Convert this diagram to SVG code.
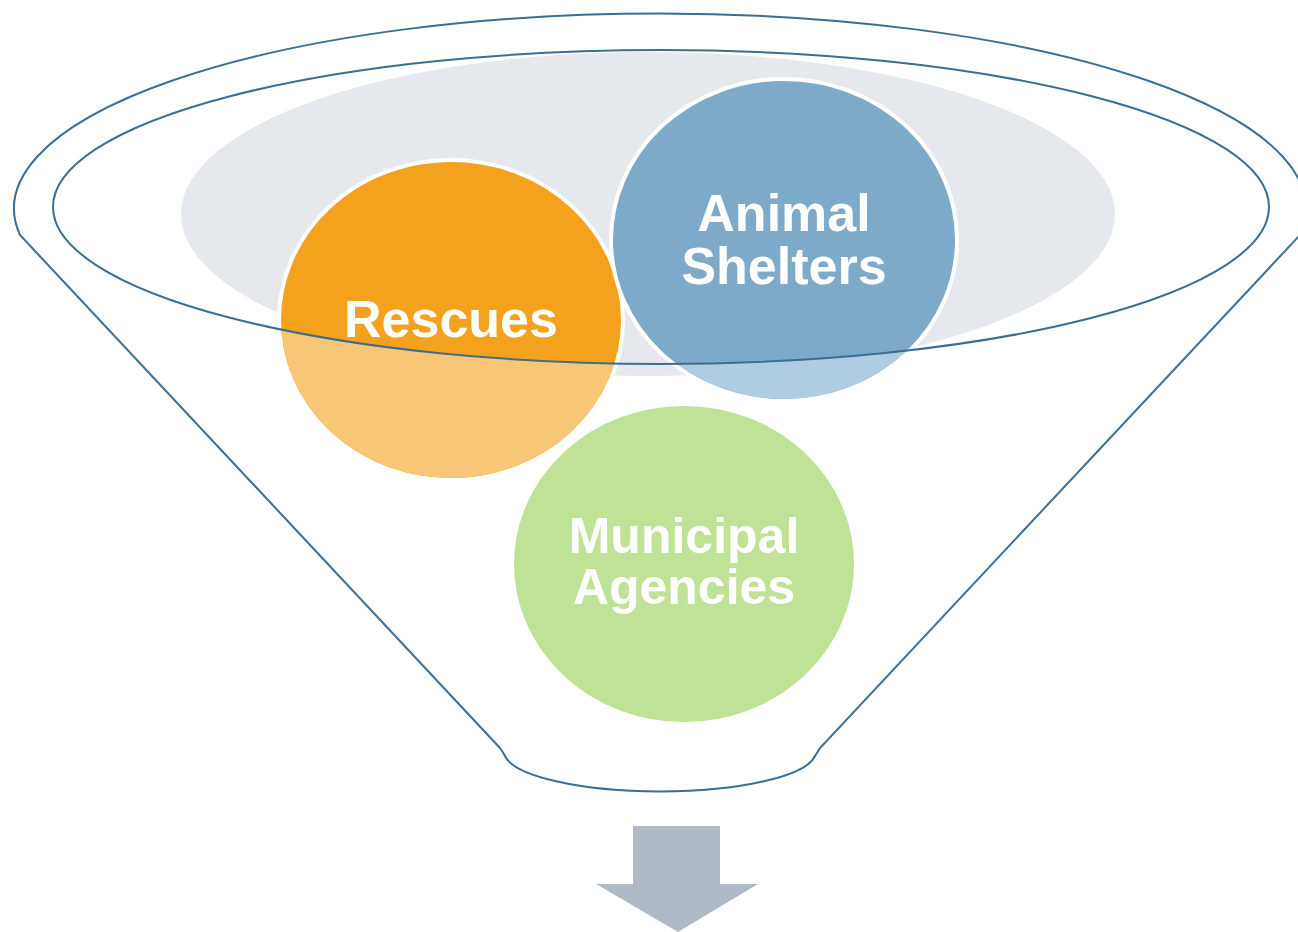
<svg xmlns="http://www.w3.org/2000/svg" width="1298" height="932" viewBox="0 0 1298 932">
<style>
.lbl{font-family:"Liberation Sans",Arial,sans-serif;font-weight:bold;font-size:52px;fill:#fff;text-anchor:middle}
.sm{font-size:50px}
.edge{fill:none;stroke:#3B6E8F;stroke-width:2}
.circ{stroke:#fff;stroke-width:4}
</style>
<defs>
<clipPath id="outside">
<path clip-rule="evenodd" d="M0,0 H1298 V932 H0 Z M53,207 A608 157 0 1 0 1269,207 A608 157 0 1 0 53,207 Z"/>
</clipPath>
</defs>
<rect width="1298" height="932" fill="#fff"/>
<g id="funnel-back">
<ellipse cx="648" cy="214" rx="467" ry="162" fill="#E5E9ED"/>
</g>
<g id="rescues">
<ellipse class="circ" cx="451" cy="320" rx="172" ry="160" fill="#F4A11D"/>
<ellipse cx="451" cy="320" rx="170" ry="158" fill="#F8C677" clip-path="url(#outside)"/>
<text class="lbl" x="451" y="337">Rescues</text>
</g>
<g id="animal-shelters">
<ellipse class="circ" cx="784" cy="240" rx="173" ry="161" fill="#7EAACA"/>
<ellipse cx="784" cy="240" rx="171" ry="159" fill="#B0CCE1" clip-path="url(#outside)"/>
<text class="lbl" x="784" y="231">Animal</text>
<text class="lbl" x="784" y="284">Shelters</text>
</g>
<g id="municipal-agencies">
<ellipse class="circ" cx="684" cy="564" rx="172" ry="160" fill="#BFE297"/>
<text class="lbl sm" x="684" y="553">Municipal</text>
<text class="lbl sm" x="684" y="604">Agencies</text>
</g>
<g id="funnel">
<path class="edge" d="M20,235 A646 195 0 1 1 1300,235 L820,748 Q817,753 815,756 A156 40 0 0 1 505,756 Q503,752 500,748 Z"/>
<ellipse class="edge" cx="661" cy="207" rx="608" ry="157"/>
</g>
<g id="connectors">
<polygon points="633,826 720,826 720,884 758,884 678,932 596,884 633,884" fill="#B0BAC6"/>
</g>
</svg>
